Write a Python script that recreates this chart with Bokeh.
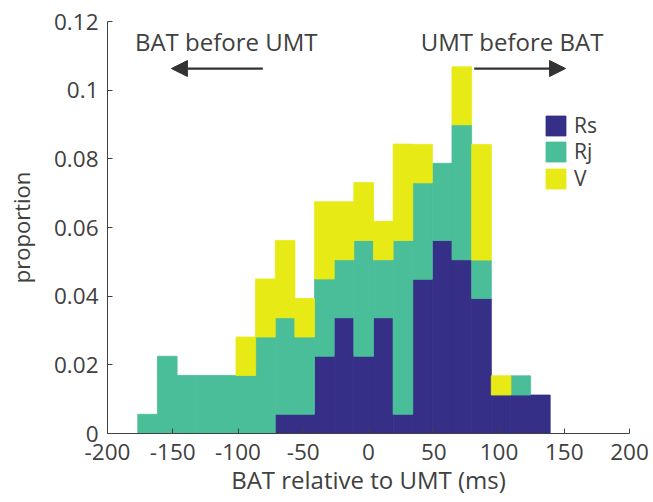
from bokeh.plotting import figure
from bokeh.models import (ColumnDataSource, FixedTicker, Arrow, NormalHead, Label,
                          Legend, LegendItem)
from bokeh.embed import file_html
from bokeh.resources import INLINE

# ---- data (proportions per 15.05 ms bin) ----
bin_centers = [-169.3, -154.2, -139.2, -124.1, -109.1, -94.0, -79.0, -63.9, -48.9, -33.8,
               -18.8, -3.7, 11.3, 26.4, 41.4, 56.5, 71.5, 86.6, 101.6, 116.7, 131.7]
bin_width = 15.05
rs = [0, 0, 0, 0, 0, 0, 0, 0.0056, 0.0056, 0.0225, 0.0337, 0.0225, 0.0337, 0.0056,
      0.0449, 0.0562, 0.0506, 0.0393, 0.0112, 0.0112, 0.0112]
rj = [0.0056, 0.0225, 0.0169, 0.0169, 0.0169, 0.0169, 0.0281, 0.0281, 0.0225, 0.0225,
      0.0169, 0.0337, 0.0169, 0.0506, 0.0281, 0.0225, 0.0393, 0.0112, 0, 0.0056, 0]
v = [0, 0, 0, 0, 0, 0.0112, 0.0169, 0.0225, 0.0112, 0.0225, 0.0169, 0.0169, 0.0112,
     0.0281, 0.0112, 0, 0.0169, 0.0337, 0.0056, 0, 0]
series_names = ["Rs", "Rj", "V"]
series_values = [rs, rj, v]
series_colors = ["#352F87", "#4ABE98", "#E7EA15"]
x_ticks = [-200, -150, -100, -50, 0, 50, 100, 150, 200]
y_ticks = [0, 0.02, 0.04, 0.06, 0.08, 0.1, 0.12]
y_tick_labels = ["0", "0.02", "0.04", "0.06", "0.08", "0.1", "0.12"]
x_label = "BAT relative to UMT (ms)"
y_label = "proportion"
left_note = "BAT before UMT"
right_note = "UMT before BAT"

FONT = "Open Sans"
TXT = "#404040"

p = figure(output_backend="svg", toolbar_location=None,
           frame_width=522, frame_height=412,
           min_border_left=107, min_border_right=24, min_border_top=21, min_border_bottom=69,
           x_range=(-200, 200), y_range=(0, 0.12),
           x_axis_location="below", y_axis_location="left")

# stacked histogram: each series drawn on top of the previous ones
renderers = []
base = [0.0] * len(bin_centers)
for name, vals, col in zip(series_names, series_values, series_colors):
    xs, bots, tops = [], [], []
    for i, (xc, h) in enumerate(zip(bin_centers, vals)):
        if h > 0:
            xs.append(xc)
            bots.append(base[i])
            tops.append(base[i] + h)
        base[i] += h
    src = ColumnDataSource(data=dict(x=xs, bottom=bots, top=tops))
    r = p.vbar(x="x", bottom="bottom", top="top", width=bin_width, source=src,
               fill_color=col, line_color=col, line_width=0.8)
    renderers.append(r)

p.grid.visible = False
p.outline_line_color = None
p.background_fill_color = "white"
p.border_fill_color = "white"

for ax in (p.xaxis[0], p.yaxis[0]):
    ax.axis_line_color = TXT
    ax.axis_line_width = 1
    ax.major_tick_line_color = TXT
    ax.major_tick_in = 5
    ax.major_tick_out = 0
    ax.minor_tick_line_color = None
    ax.major_label_text_font = FONT
    ax.major_label_text_font_size = "22.5px"
    ax.major_label_text_color = TXT
    ax.axis_label_text_font = FONT
    ax.axis_label_text_font_style = "normal"
    ax.axis_label_text_color = TXT

p.xaxis.ticker = FixedTicker(ticks=x_ticks)
p.xaxis.major_label_overrides = {t: str(t) for t in x_ticks}
p.xaxis.major_label_standoff = 10
p.xaxis.axis_label = x_label
p.xaxis.axis_label_text_font_size = "24px"
p.xaxis.axis_label_standoff = 0

p.yaxis.ticker = FixedTicker(ticks=y_ticks)
p.yaxis.major_label_overrides = dict(zip(y_ticks, y_tick_labels))
p.yaxis.major_label_standoff = 9
p.yaxis.axis_label = y_label
p.yaxis.axis_label_text_font_size = "22px"
p.yaxis.axis_label_standoff = 15

# legend: one entry per series, stacked tightly
legend_y = [294, 268, 241]
for name, r, ly in zip(series_names, renderers, legend_y):
    lg = Legend(items=[LegendItem(label=name, renderers=[r])], location=(436, ly),
                border_line_color=None, background_fill_alpha=0, padding=0, margin=0,
                glyph_width=25, glyph_height=25, label_height=25, label_standoff=6,
                label_text_font=FONT, label_text_font_size="21px", label_text_color=TXT)
    p.add_layout(lg)

# annotations
p.add_layout(Arrow(end=NormalHead(size=16, fill_color="#333333", line_color="#333333"),
                   x_start=-81, y_start=0.1063, x_end=-151, y_end=0.1063,
                   line_color="#333333", line_width=2.2))
p.add_layout(Arrow(end=NormalHead(size=16, fill_color="#333333", line_color="#333333"),
                   x_start=81, y_start=0.1063, x_end=151, y_end=0.1063,
                   line_color="#333333", line_width=2.2))
p.add_layout(Label(x=-109, y=0.1141, text=left_note, text_align="center",
                   text_baseline="alphabetic", text_font=FONT, text_font_size="24px",
                   text_color=TXT))
p.add_layout(Label(x=110, y=0.1141, text=right_note, text_align="center",
                   text_baseline="alphabetic", text_font=FONT, text_font_size="24px",
                   text_color=TXT))

open("out.html", "w").write(file_html(p, INLINE))
